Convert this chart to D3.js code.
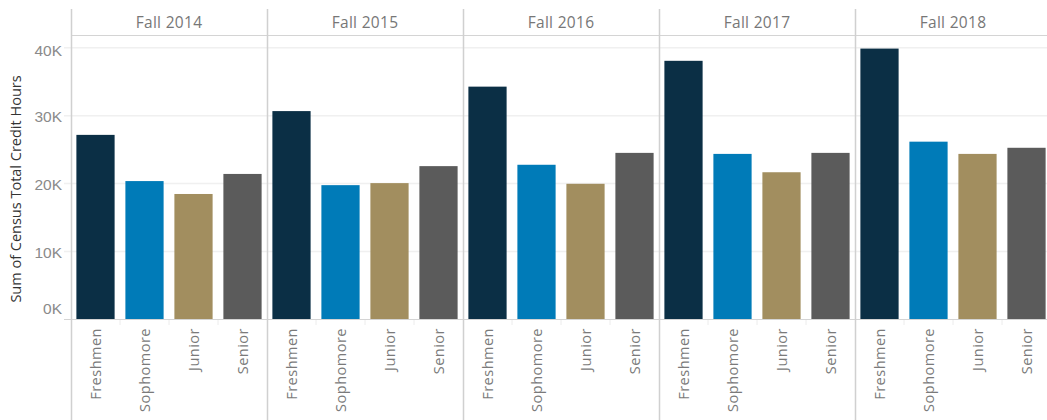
<!DOCTYPE html>
<html>
<head>
<meta charset="utf-8">
<script src="https://cdn.jsdelivr.net/npm/d3@7"></script>
<style>
  body { margin: 0; background: #fff; }
  svg { display: block; font-family: "Open Sans", sans-serif; }
</style>
</head>
<body>
<svg id="canvas" width="1047" height="420"></svg>
<script>
// data
let terms = ["Fall 2014", "Fall 2015", "Fall 2016", "Fall 2017", "Fall 2018"]
let classes = ["Freshmen", "Sophomore", "Junior", "Senior"]
let freshmen  = [27100, 30600, 34200, 38000, 39800]
let sophomore = [20300, 19700, 22700, 24300, 26100]
let junior    = [18400, 20000, 19900, 21600, 24300]
let senior    = [21350, 22500, 24450, 24450, 25200]
let yTicks = [0, 10000, 20000, 30000, 40000]
let colors = ["#0b2f45", "#007bb8", "#a28e5f", "#5b5b5b"]

let series = [freshmen, sophomore, junior, senior]

let svg = d3.select('#canvas')

let left = 71
let panelW = 196
let headTop = 9
let headBottom = 35
let baseY = 319

let xPanel = d3.scaleBand()
               .domain(terms)
               .range([left, left + panelW * terms.length])

let xBar = d3.scaleBand()
             .domain(classes)
             .range([0, panelW])
             .paddingInner(0.22)
             .paddingOuter(0.11)

let y = d3.scaleLinear()
          .domain([0, 41800])
          .range([baseY, headBottom])

let color = d3.scaleOrdinal().domain(classes).range(colors)

// gridlines (with a little tick stub to the left)
svg.selectAll('.grid')
   .data(yTicks.slice(1))
   .enter()
   .append('line')
   .attr('x1', left - 7)
   .attr('x2', 1047)
   .attr('y1', (d) => y(d) + 0.5)
   .attr('y2', (d) => y(d) + 0.5)
   .attr('stroke', '#f0f0f0')
   .attr('stroke-width', 1.5)

// y axis labels
let yAxis = d3.axisLeft(y)
              .tickValues(yTicks)
              .tickFormat((d) => (d / 1000) + 'K')
              .tickSize(0)
              .tickPadding(9)

let yg = svg.append('g')
            .attr('transform', 'translate(' + left + ',0)')
            .call(yAxis)
yg.select('.domain').remove()
yg.selectAll('text')
  .attr('fill', '#8a8a8a')
  .style('font-size', '15.5px')
  .attr('dy', (d) => {
      // tableau keeps the end labels inside the plot
      if (d === 0) return '-0.35em'
      if (d === 40000) return '0.52em'
      return '0.4em'
  })

svg.append('text')
   .attr('transform', 'translate(21,' + 189 + ') rotate(-90)')
   .attr('text-anchor', 'middle')
   .attr('fill', '#333')
   .style('font-size', '14.5px')
   .text('Sum of Census Total Credit Hours')

// panels
let panels = svg.selectAll('.panel')
   .data(terms)
   .enter()
   .append('g')
   .attr('class', 'panel')
   .attr('transform', (t) => 'translate(' + xPanel(t) + ',0)')

panels.selectAll('rect')
   .data((t, i) => classes.map((c, j) => ({ cls: c, value: series[j][i] })))
   .enter()
   .append('rect')
   .attr('x', (d) => xBar(d.cls))
   .attr('width', xBar.bandwidth())
   .attr('y', (d) => y(d.value))
   .attr('height', (d) => baseY - y(d.value))
   .attr('fill', (d) => color(d.cls))

// small ticks between bars
panels.selectAll('.tick')
   .data(classes.slice(1))
   .enter()
   .append('line')
   .attr('x1', (c) => xBar(c) - xBar.step() * xBar.paddingInner() / 2)
   .attr('x2', (c) => xBar(c) - xBar.step() * xBar.paddingInner() / 2)
   .attr('y1', baseY)
   .attr('y2', baseY + 6)
   .attr('stroke', '#ececec')

// category labels
panels.selectAll('.cat')
   .data(classes)
   .enter()
   .append('text')
   .attr('transform', (c) => 'translate(' + (xBar(c) + xBar.bandwidth() / 2 + 5) + ',' + (baseY + 9) + ') rotate(-90)')
   .attr('text-anchor', 'end')
   .attr('fill', '#7a7a7a')
   .style('font-size', '14.5px')
   .style('letter-spacing', '0.5px')
   .text((c) => c)

// headers
panels.append('text')
   .attr('x', panelW / 2)
   .attr('y', 28)
   .attr('text-anchor', 'middle')
   .attr('fill', '#777')
   .style('font-size', '15.5px')
   .style('letter-spacing', '0.3px')
   .text((t) => t)

// header and base lines
svg.append('line')
   .attr('x1', left).attr('x2', 1047)
   .attr('y1', headBottom + 0.5).attr('y2', headBottom + 0.5)
   .attr('stroke', '#d4d4d4')

svg.append('line')
   .attr('x1', left - 7).attr('x2', 1047)
   .attr('y1', baseY + 0.5).attr('y2', baseY + 0.5)
   .attr('stroke', '#d4d4d4')

// vertical separators
svg.selectAll('.sep')
   .data(terms)
   .enter()
   .append('line')
   .attr('x1', (t) => xPanel(t) + 0.5)
   .attr('x2', (t) => xPanel(t) + 0.5)
   .attr('y1', headTop)
   .attr('y2', 420)
   .attr('stroke', '#d0d0d0')
   .attr('stroke-width', 1.5)
</script>
</body>
</html>
